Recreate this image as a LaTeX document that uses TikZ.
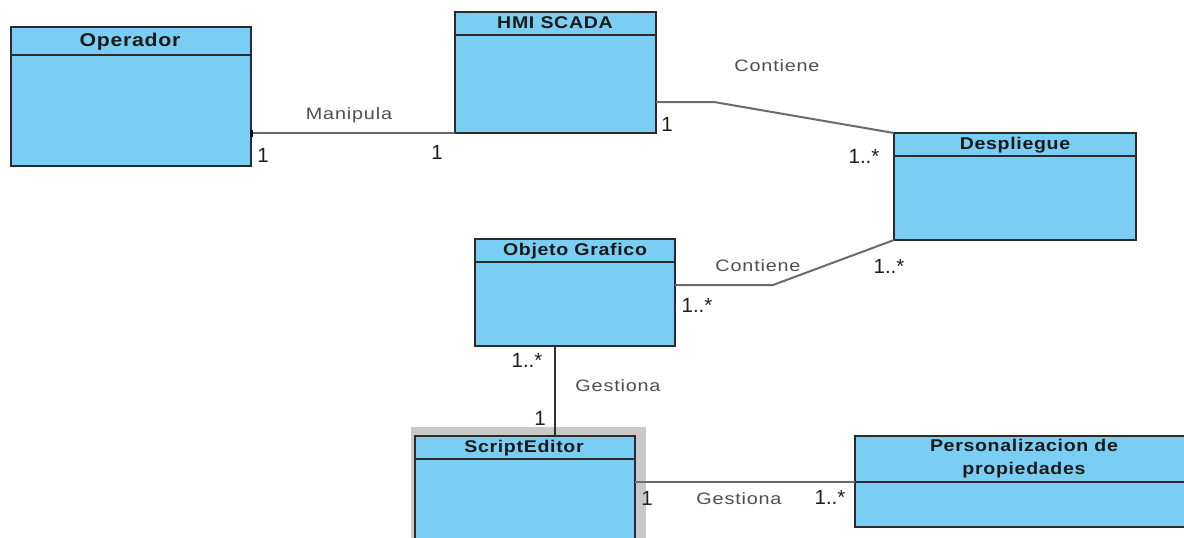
\documentclass[tikz,border=0pt]{standalone}
\usepackage{fontspec}
\setmainfont{Liberation Sans}
\newfontfamily\ttlfont[FakeStretch=1.15,LetterSpace=4]{Liberation Sans}
\newfontfamily\labfont[FakeStretch=1.2,LetterSpace=5]{Liberation Sans}
\newfontfamily\multfont[FakeStretch=1.0]{Liberation Sans}

\definecolor{boxfill}{HTML}{7ACEF4}
\definecolor{boxline}{HTML}{2B2B2B}
\definecolor{connline}{HTML}{6A6A6A}
\definecolor{conndark}{HTML}{2E2E2E}
\definecolor{labtext}{HTML}{4E4E4E}
\definecolor{titletext}{HTML}{1A1A1A}
\definecolor{multtext}{HTML}{231E18}
\definecolor{shadowgray}{HTML}{C9C9C9}

\tikzset{
  cls/.style={draw=boxline, fill=boxfill, line width=1.4pt, anchor=north west,
              inner sep=0pt, outer sep=0pt},
  hdr/.style={draw=boxline, line width=1.4pt},
  ttl/.style={font=\ttlfont\bfseries\fontsize{17}{20}\selectfont, text=titletext,
              inner sep=0pt, align=center},
  conn/.style={draw=connline, line width=2pt},
  conndk/.style={draw=conndark, line width=1.5pt},
  lab/.style={font=\labfont\fontsize{16.5}{18}\selectfont, text=labtext,
              inner sep=0pt, text height=12pt, text depth=3.5pt},
  mult/.style={font=\multfont\fontsize{20.5}{22}\selectfont, text=multtext,
               inner sep=0pt, text height=14.5pt, text depth=0pt},
}

\begin{document}
\begin{tikzpicture}[x=1pt,y=-1pt]
\useasboundingbox (0,0) rectangle (1184,538);
\clip (0,0) rectangle (1184,538);
\fill[white] (0,0) rectangle (1184,538);

% class boxes
\node[cls, minimum width=240pt, minimum height=139pt] (op)  at (11,27)  {};
\node[cls, minimum width=201pt, minimum height=121pt] (hmi) at (455,12) {};
\node[cls, minimum width=242pt, minimum height=107pt] (dsp) at (894,133) {};
\node[cls, minimum width=200pt, minimum height=107pt] (obj) at (475,239) {};
\fill[shadowgray] (411,427) rectangle (646,545);
\node[cls, minimum width=220pt, minimum height=115pt] (se)  at (415,436) {};
\node[cls, minimum width=340pt, minimum height=91pt]  (per) at (855,436) {};

% compartment dividers
\draw[hdr] ([yshift=-28pt]op.north west)  -- ([yshift=-28pt]op.north east);
\draw[hdr] ([yshift=-23pt]hmi.north west) -- ([yshift=-23pt]hmi.north east);
\draw[hdr] ([yshift=-23pt]dsp.north west) -- ([yshift=-23pt]dsp.north east);
\draw[hdr] ([yshift=-23pt]obj.north west) -- ([yshift=-23pt]obj.north east);
\draw[hdr] ([yshift=-23pt]se.north west)  -- ([yshift=-23pt]se.north east);
\draw[hdr] ([yshift=-46pt]per.north west) -- ([yshift=-46pt]per.north east);

% class names
\node[ttl, font=\ttlfont\bfseries\fontsize{18.5}{22}\selectfont] (opT) at (130,42) {Operador};
\node[ttl] (hmiT) at (555,23)  {HMI SCADA};
\node[ttl] (dspT) at (1015,145) {Despliegue};
\node[ttl] (objT) at (575,251) {Objeto Grafico};
\node[ttl] (seT)  at (524,448) {ScriptEditor};
\node[ttl, font=\ttlfont\bfseries\fontsize{17}{23}\selectfont] (perT) at (1024,459)
  {Personalizacion de\\propiedades};

% associations
\coordinate (k1) at (714,102);
\coordinate (k2) at (773,285);
\coordinate (k3) at (555,0);
\draw[conn] (op.east |- hmi.south west) -- (hmi.south west);
\fill[black] (250,130) rectangle (253,137);
\draw[conn] (hmi.east |- k1) -- (k1) -- (dsp.north west);
\draw[conn] (obj.east |- k2) -- (k2) -- (dsp.south west);
\draw[conndk] (obj.south -| k3) -- (se.north -| k3);
\draw[conn] (se.east |- per.west) -- (per.west);

% association names
\node[lab] (l1) at (349,115) {Manipula};
\node[lab] (l2) at (777,67)  {Contiene};
\node[lab] (l3) at (758,267) {Contiene};
\node[lab] (l4) at (618,387) {Gestiona};
\node[lab] (l5) at (739,500) {Gestiona};

% multiplicities
\node[mult] (m1)  at (263,155) {1};
\node[mult] (m2)  at (437,152) {1};
\node[mult] (m3)  at (667,124) {1};
\node[mult] (m4)  at (864,156) {1..*};
\node[mult] (m5)  at (697,305) {1..*};
\node[mult] (m6)  at (889,266) {1..*};
\node[mult] (m7)  at (527,360) {1..*};
\node[mult] (m8)  at (540,418) {1};
\node[mult] (m9)  at (647,498) {1};
\node[mult] (m10) at (830,497) {1..*};
\end{tikzpicture}
\end{document}
